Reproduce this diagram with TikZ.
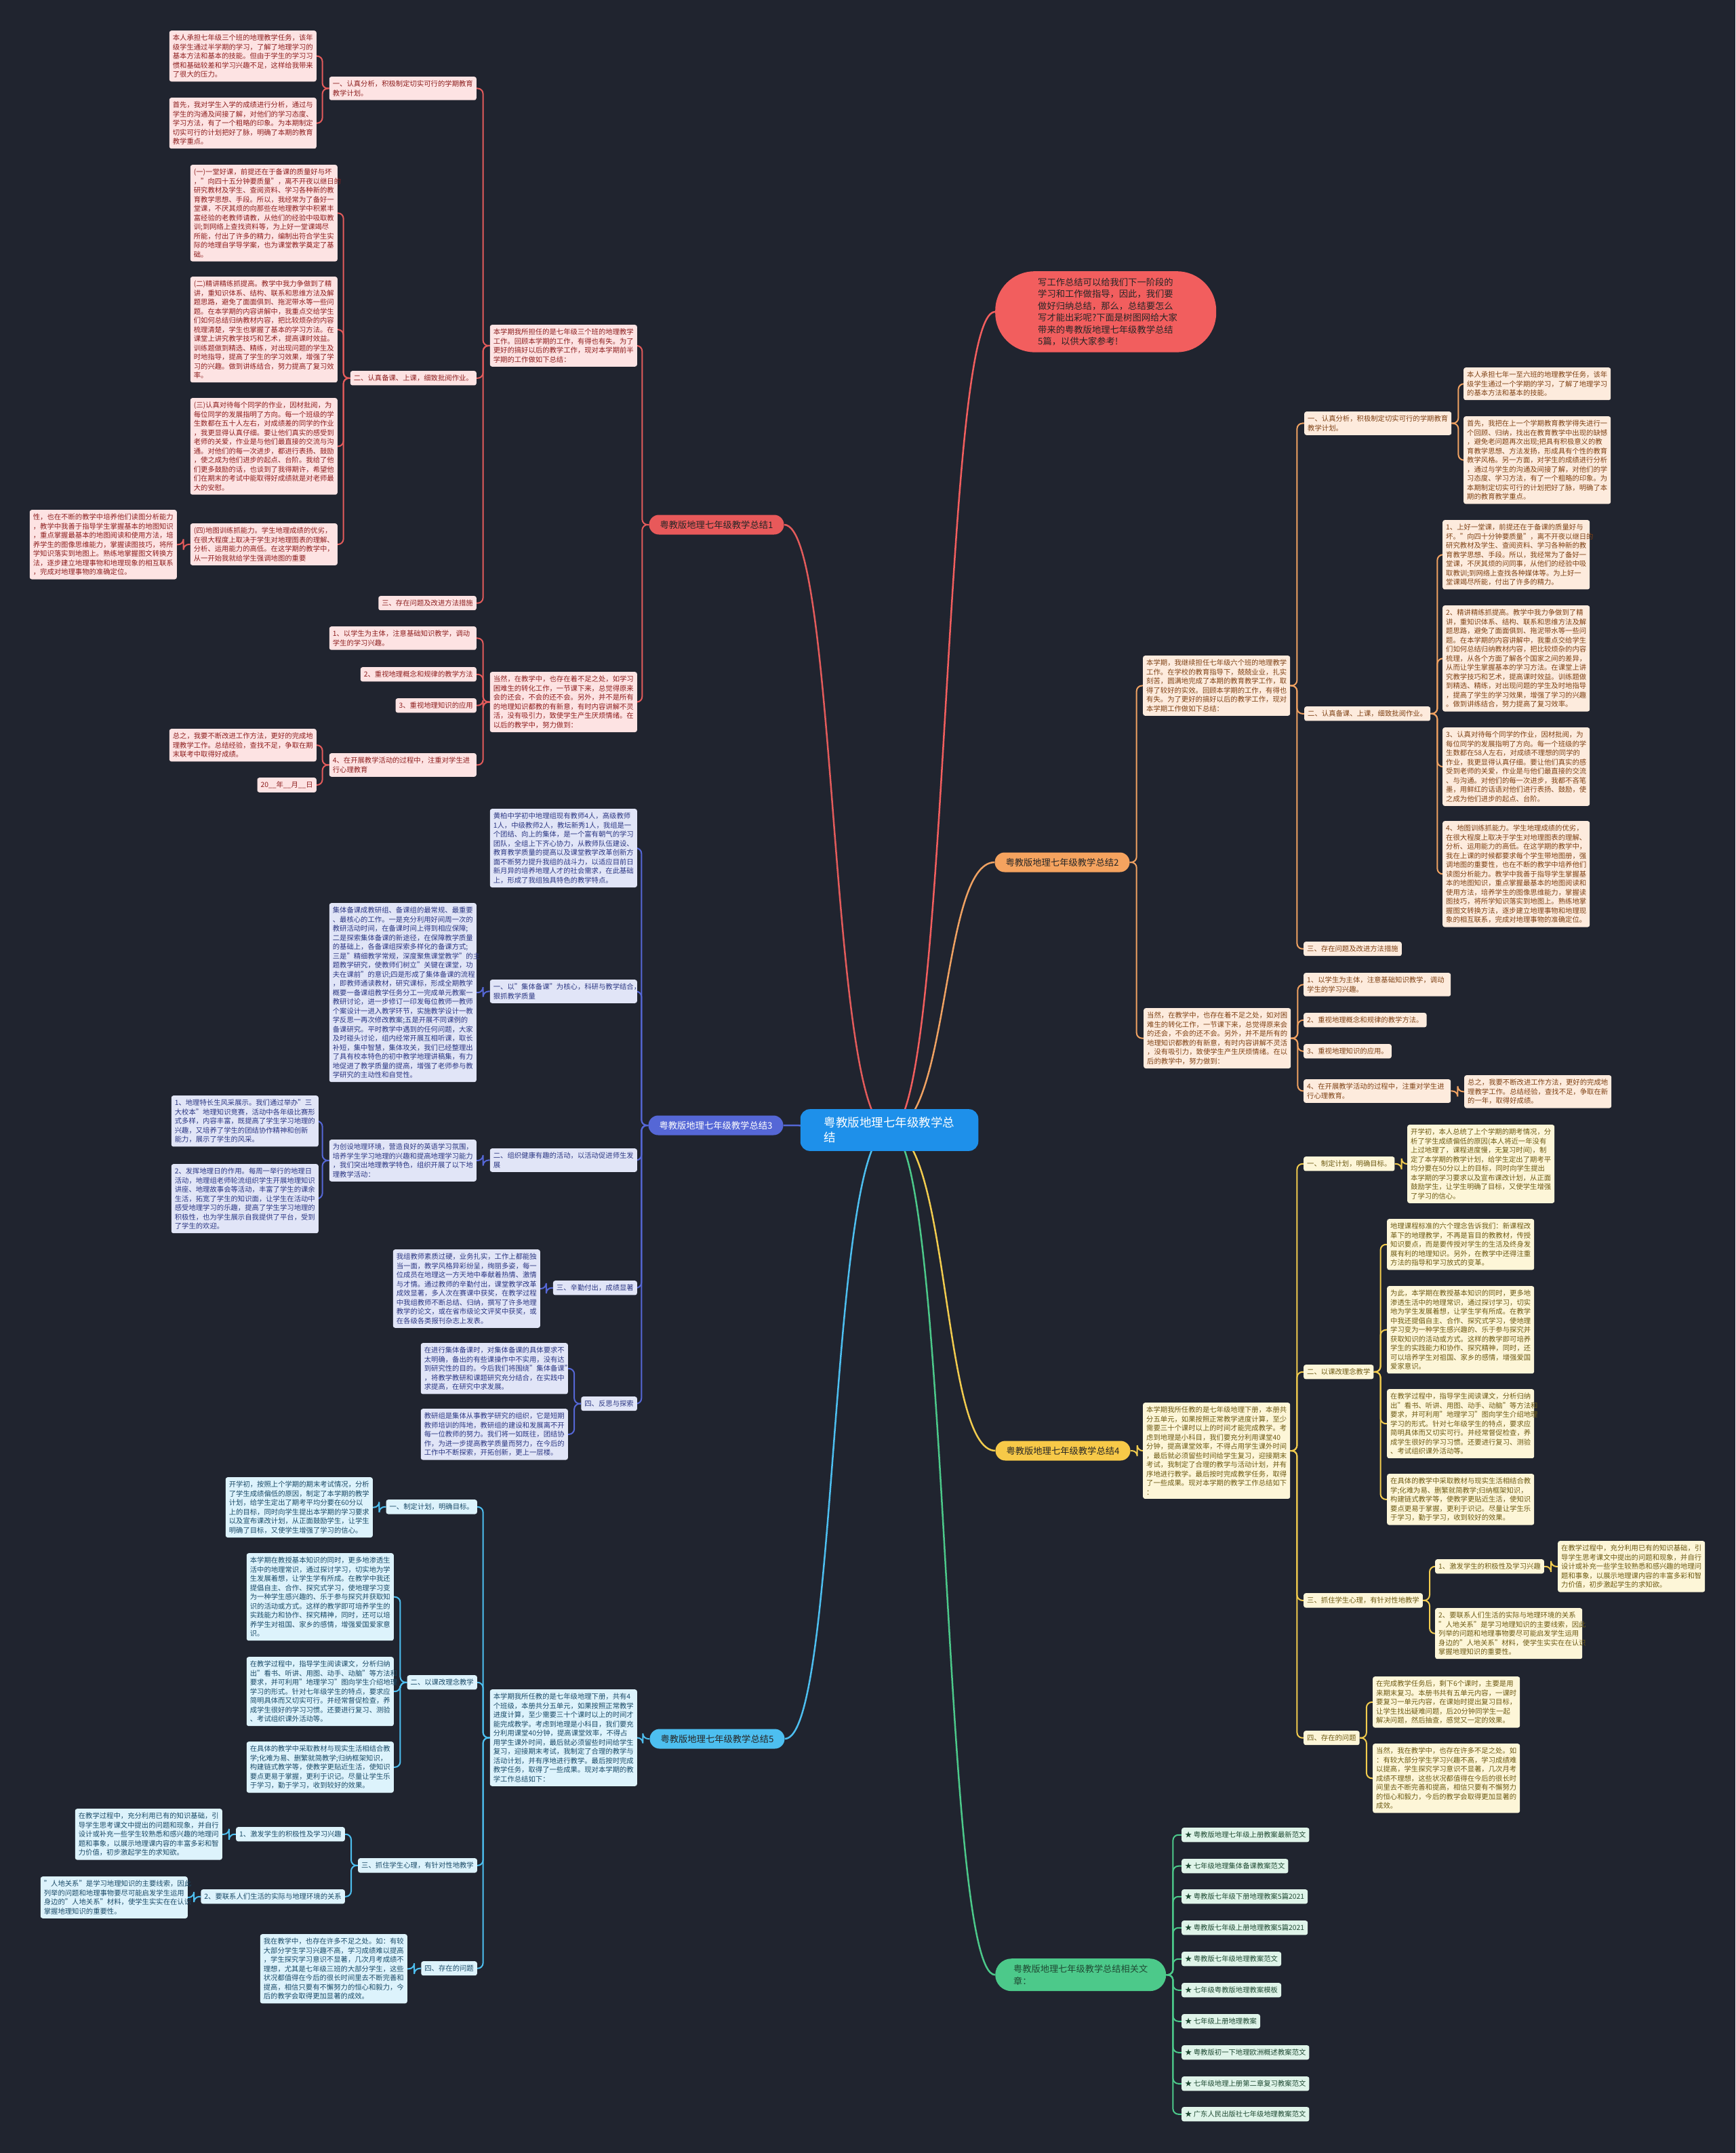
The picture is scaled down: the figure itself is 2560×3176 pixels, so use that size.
\documentclass[tikz,border=0pt]{standalone}
\usepackage{fontspec}
\setmainfont{Noto Sans CJK SC}
\usetikzlibrary{backgrounds}
\definecolor{bgc}{HTML}{20242F}
\definecolor{l1}{HTML}{E35B5B}\definecolor{f1}{HTML}{FDE3E3}\definecolor{t1}{HTML}{8E1F1F}\definecolor{n1}{HTML}{E8595A}
\definecolor{l2}{HTML}{F0A262}\definecolor{f2}{HTML}{FDEBDD}\definecolor{t2}{HTML}{7F4215}\definecolor{n2}{HTML}{F5A35F}
\definecolor{l3}{HTML}{5567D6}\definecolor{f3}{HTML}{E1E5F7}\definecolor{t3}{HTML}{2C3783}\definecolor{n3}{HTML}{5567D6}
\definecolor{l4}{HTML}{F2CC4E}\definecolor{f4}{HTML}{FDF6D8}\definecolor{t4}{HTML}{6E5B14}\definecolor{n4}{HTML}{F7C948}
\definecolor{l5}{HTML}{4DBFF0}\definecolor{f5}{HTML}{DDF3FC}\definecolor{t5}{HTML}{1B4B68}\definecolor{n5}{HTML}{4DBFF0}
\definecolor{l6}{HTML}{4CC98A}\definecolor{f6}{HTML}{DFF4E9}\definecolor{t6}{HTML}{1F4A33}\definecolor{n6}{HTML}{4CC98A}
\definecolor{rootc}{HTML}{1E90EA}
\definecolor{introc}{HTML}{F25E5E}
\newcommand\lnkL[3]{\draw[#1] (#2.west) -- ++(-10,0) |- (#3.east);}
\newcommand\lnkR[3]{\draw[#1] (#2.east) -- ++(10,0) |- (#3.west);}
\tikzset{
 bx/.style={rounded corners=3pt, inner xsep=5pt, inner ysep=5.7pt, align=left, font=\fontsize{10.35pt}{13.5pt}\selectfont},
 tw/.style={text width=207pt},
 k1/.style={bx, fill=f1, text=t1},
 k2/.style={bx, fill=f2, text=t2},
 k3/.style={bx, fill=f3, text=t3},
 k4/.style={bx, fill=f4, text=t4},
 k5/.style={bx, fill=f5, text=t5},
 k6/.style={bx, fill=f6, text=t6},
 brn/.style={rounded corners=14.5pt, minimum height=29pt, inner xsep=16pt, inner ysep=4pt, text=black!85, font=\fontsize{13.3pt}{16pt}\selectfont},
 ln1/.style={draw=l1, line width=2pt, rounded corners=8pt},
 ln2/.style={draw=l2, line width=2pt, rounded corners=8pt},
 ln3/.style={draw=l3, line width=2pt, rounded corners=8pt},
 ln4/.style={draw=l4, line width=2pt, rounded corners=8pt},
 ln5/.style={draw=l5, line width=2pt, rounded corners=8pt},
 ln6/.style={draw=l6, line width=2pt, rounded corners=8pt},
 rl/.style={line width=2.5pt},
 NE/.style={anchor=north east},
 NW/.style={anchor=north west},
}
\begin{document}
\begin{tikzpicture}[x=1pt,y=-1pt]
\begin{pgfonlayer}{background}
\fill[bgc] (0,0) rectangle (2560,3176);
\end{pgfonlayer}
\useasboundingbox (0,0) rectangle (2560,3176);

% root
\node[fill=rootc, text=white, rounded corners=14pt, text width=192.5pt, inner xsep=35pt, inner ysep=11.7pt, align=left, font=\fontsize{17.5pt}{22pt}\selectfont] (root) at (1312,1667) {粤教版地理七年级教学总\\结};

% intro bubble
\node[NW, fill=introc, text=black!85, rounded corners=58pt, text width=200pt, inner xsep=63pt, inner ysep=9.6pt, align=left, font=\fontsize{13.3pt}{17.5pt}\selectfont] (intro) at (1468,400) {写工作总结可以给我们下一阶段的\\学习和工作做指导，因此，我们要\\做好归纳总结，那么，总结要怎么\\写才能出彩呢?下面是树图网给大家\\带来的粤教版地理七年级教学总结\\5篇，以供大家参考!};

% ===== Branch 1 =====
\node[brn, fill=n1] (B1) at (1057,774) {粤教版地理七年级教学总结1};
\node[k1,tw,NE] (b1i1) at (940,479) {本学期我所担任的是七年级三个班的地理教学\\工作。回顾本学期的工作，有得也有失。为了\\更好的搞好以后的教学工作，现对本学期前半\\学期的工作做如下总结：};
\node[k1,tw,NE] (b1i2) at (940,991) {当然，在教学中，也存在着不足之处，如学习\\困难生的转化工作，一节课下来，总觉得原来\\会的还会，不会的还不会。另外，并不是所有\\的地理知识都教的有新意，有时内容讲解不灵\\活，没有吸引力，致使学生产生厌烦情绪。在\\以后的教学中，努力做到：};
\node[k1,tw,NE] (b1a) at (703,113) {一、认真分析，积极制定切实可行的学期教育\\教学计划。};
\node[k1,tw,NE] (b1a1) at (467,45) {本人承担七年级三个班的地理教学任务，该年\\级学生通过半学期的学习，了解了地理学习的\\基本方法和基本的技能。但由于学生的学习习\\惯和基础较差和学习兴趣不足，这样给我带来\\了很大的压力。};
\node[k1,tw,NE] (b1a2) at (467,144) {首先，我对学生入学的成绩进行分析，通过与\\学生的沟通及间接了解，对他们的学习态度、\\学习方法，有了一个粗略的印象。为本期制定\\切实可行的计划把好了脉，明确了本期的教育\\教学重点。};
\node[k1,NE] (b1b) at (703,547) {二、认真备课、上课，细致批阅作业。};
\node[k1,tw,NE] (b1b1) at (498,243) {(一)一堂好课，前提还在于备课的质量好与坏\\，"向四十五分钟要质量"，离不开夜以继日的\\研究教材及学生、查阅资料、学习各种新的教\\育教学思想、手段。所以，我经常为了备好一\\堂课，不厌其烦的向那些在地理教学中积累丰\\富经验的老教师请教，从他们的经验中吸取教\\训;到网络上查找资料等，为上好一堂课竭尽\\所能，付出了许多的精力，编制出符合学生实\\际的地理自学导学案，也为课堂教学奠定了基\\础。};
\node[k1,tw,NE] (b1b2) at (498,408) {(二)精讲精练抓提高。教学中我力争做到了精\\讲，重知识体系、结构、联系和思维方法及解\\题思路，避免了面面俱到、拖泥带水等一些问\\题。在本学期的内容讲解中，我重点交给学生\\们如何总结归纳教材内容，把比较烦杂的内容\\梳理清楚，学生也掌握了基本的学习方法。在\\课堂上讲究教学技巧和艺术，提高课时效益。\\训练题做到精选、精练，对出现问题的学生及\\时地指导，提高了学生的学习效果，增强了学\\习的兴趣。做到讲练结合，努力提高了复习效\\率。};
\node[k1,tw,NE] (b1b3) at (498,587) {(三)认真对待每个同学的作业，因材批阅，为\\每位同学的发展指明了方向。每一个班级的学\\生数都在五十人左右，对成绩差的同学的作业\\，我更显得认真仔细。要让他们真实的感受到\\老师的关爱，作业是与他们最直接的交流与沟\\通。对他们的每一次进步，都进行表扬、鼓励\\，使之成为他们进步的起点、台阶。我给了他\\们更多鼓励的话，也谈到了我得期许，希望他\\们在期末的考试中能取得好成绩就是对老师最\\大的安慰。};
\node[k1,tw,NE] (b1b4) at (498,772) {(四)地图训练抓能力。学生地理成绩的优劣，\\在很大程度上取决于学生对地理图表的理解、\\分析、运用能力的高低。在这学期的教学中，\\从一开始我就给学生强调地图的重要};
\node[k1,tw,NE] (b1b4a) at (261,752) {性，也在不断的教学中培养他们读图分析能力\\，教学中我善于指导学生掌握基本的地图知识\\，重点掌握最基本的地图阅读和使用方法，培\\养学生的图像思维能力，掌握读图技巧，将所\\学知识落实到地图上。熟练地掌握图文转换方\\法，逐步建立地理事物和地理现象的相互联系\\，完成对地理事物的准确定位。};
\node[k1,NE] (b1c) at (703,879) {三、存在问题及改进方法措施};
\node[k1,tw,NE] (b1d1) at (703,924) {1、以学生为主体，注意基础知识教学，调动\\学生的学习兴趣。};
\node[k1,NE] (b1d2) at (703,984) {2、重视地理概念和规律的教学方法};
\node[k1,NE] (b1d3) at (703,1030) {3、重视地理知识的应用};
\node[k1,tw,NE] (b1d4) at (703,1111) {4、在开展教学活动的过程中，注重对学生进\\行心理教育};
\node[k1,tw,NE] (b1d4a) at (467,1075) {总之，我要不断改进工作方法，更好的完成地\\理教学工作。总结经验，查找不足，争取在期\\末联考中取得好成绩。};
\node[k1,NE] (b1d4b) at (467,1147) {20\_\_年\_\_月\_\_日};

% ===== Branch 2 =====
\node[brn, fill=n2] (B2) at (1567,1272) {粤教版地理七年级教学总结2};
\node[k2,tw,NW] (b2i1) at (1686,967) {本学期，我继续担任七年级六个班的地理教学\\工作。在学校的教育指导下，兢兢业业，扎实\\刻苦，圆满地完成了本期的教育教学工作，取\\得了较好的实效。回顾本学期的工作，有得也\\有失。为了更好的搞好以后的教学工作，现对\\本学期工作做如下总结：};
\node[k2,tw,NW] (b2i2) at (1687,1487) {当然，在教学中，也存在着不足之处，如对困\\难生的转化工作，一节课下来，总觉得原来会\\的还会，不会的还不会。另外，并不是所有的\\地理知识都教的有新意，有时内容讲解不灵活\\，没有吸引力，致使学生产生厌烦情绪。在以\\后的教学中，努力做到：};
\node[k2,tw,NW] (b2a) at (1924,607) {一、认真分析，积极制定切实可行的学期教育\\教学计划。};
\node[k2,tw,NW] (b2a1) at (2159,542) {本人承担七年一至六班的地理教学任务，该年\\级学生通过一个学期的学习，了解了地理学习\\的基本方法和基本的技能。};
\node[k2,tw,NW] (b2a2) at (2159,614) {首先，我把在上一个学期教育教学得失进行一\\个回顾、归纳，找出在教育教学中出现的缺憾\\，避免老问题再次出现;把具有积极意义的教\\育教学思想、方法发扬，形成具有个性的教育\\教学风格。另一方面，对学生的成绩进行分析\\，通过与学生的沟通及间接了解，对他们的学\\习态度、学习方法，有了一个粗略的印象。为\\本期制定切实可行的计划把好了脉，明确了本\\期的教育教学重点。};
\node[k2,NW] (b2b) at (1924,1042) {二、认真备课、上课，细致批阅作业。};
\node[k2,tw,NW] (b2b1) at (2128,767) {1、上好一堂课，前提还在于备课的质量好与\\坏。"向四十分钟要质量"，离不开夜以继日的\\研究教材及学生、查阅资料、学习各种新的教\\育教学思想、手段。所以，我经常为了备好一\\堂课，不厌其烦的问同事，从他们的经验中吸\\取教训;到网络上查找各种媒体等。为上好一\\堂课竭尽所能，付出了许多的精力。};
\node[k2,tw,NW] (b2b2) at (2128,893) {2、精讲精练抓提高。教学中我力争做到了精\\讲，重知识体系、结构、联系和思维方法及解\\题思路，避免了面面俱到、拖泥带水等一些问\\题。在本学期的内容讲解中，我重点交给学生\\们如何总结归纳教材内容，把比较烦杂的内容\\梳理，从各个方面了解各个国家之间的差异，\\从而让学生掌握基本的学习方法。在课堂上讲\\究教学技巧和艺术，提高课时效益。训练题做\\到精选、精练，对出现问题的学生及时地指导\\，提高了学生的学习效果，增强了学习的兴趣\\。做到讲练结合，努力提高了复习效率。};
\node[k2,tw,NW] (b2b3) at (2128,1073) {3、认真对待每个同学的作业，因材批阅，为\\每位同学的发展指明了方向。每一个班级的学\\生数都在58人左右，对成绩不理想的同学的\\作业，我更显得认真仔细。要让他们真实的感\\受到老师的关爱，作业是与他们最直接的交流\\、与沟通。对他们的每一次进步，我都不吝笔\\墨，用鲜红的话语对他们进行表扬、鼓励，使\\之成为他们进步的起点、台阶。};
\node[k2,tw,NW] (b2b4) at (2128,1211) {4、地图训练抓能力。学生地理成绩的优劣，\\在很大程度上取决于学生对地理图表的理解、\\分析、运用能力的高低。在这学期的教学中，\\我在上课的时候都要求每个学生带地图册，强\\调地图的重要性，也在不断的教学中培养他们\\读图分析能力。教学中我善于指导学生掌握基\\本的地图知识，重点掌握最基本的地图阅读和\\使用方法，培养学生的图像思维能力，掌握读\\图技巧，将所学知识落实到地图上。熟练地掌\\握图文转换方法，逐步建立地理事物和地理现\\象的相互联系，完成对地理事物的准确定位。};
\node[k2,NW] (b2c) at (1923,1389) {三、存在问题及改进方法措施};
\node[k2,tw,NW] (b2d1) at (1923,1435) {1、以学生为主体，注意基础知识教学，调动\\学生的学习兴趣。};
\node[k2,NW] (b2d2) at (1923,1494) {2、重视地理概念和规律的教学方法。};
\node[k2,NW] (b2d3) at (1923,1540) {3、重视地理知识的应用。};
\node[k2,tw,NW] (b2d4) at (1923,1592) {4、在开展教学活动的过程中，注重对学生进\\行心理教育。};
\node[k2,tw,NW] (b2d4a) at (2160,1586) {总之，我要不断改进工作方法，更好的完成地\\理教学工作。总结经验，查找不足，争取在新\\的一年，取得好成绩。};

% ===== Branch 3 =====
\node[brn, fill=n3, text=white] (B3) at (1056,1660) {粤教版地理七年级教学总结3};
\node[k3,tw,NE] (b3i) at (940,1193) {黄柏中学初中地理组现有教师4人，高级教师\\1人，中级教师2人，教坛新秀1人，我组是一\\个团结、向上的集体，是一个富有朝气的学习\\团队，全组上下齐心协力，从教师队伍建设、\\教育教学质量的提高以及课堂教学改革创新方\\面不断努力提升我组的战斗力，以适应目前日\\新月异的培养地理人才的社会需求，在此基础\\上，形成了我组独具特色的教学特点。};
\node[k3,tw,NE] (b3a) at (940,1445) {一、以"集体备课"为核心，科研与教学结合，\\狠抓教学质量};
\node[k3,tw,NE] (b3a1) at (703,1332) {集体备课成教研组、备课组的最常规、最重要\\、最核心的工作。一是充分利用好间周一次的\\教研活动时间，在备课时间上得到相应保障;\\二是探索集体备课的新途径，在保障教学质量\\的基础上，各备课组探索多样化的备课方式;\\三是"精细教学常规，深度聚焦课堂教学"的主\\题教学研究，使教师们树立"关键在课堂，功\\夫在课前"的意识;四是形成了集体备课的流程\\，即教师通读教材，研究课标，形成全期教学\\概要一备课组教学任务分工一完成单元教案一\\教研讨论，进一步修订一印发每位教师一教师\\个案设计一进入教学环节，实施教学设计一教\\学反思一再次修改教案;五是开展不同课例的\\备课研究。平时教学中遇到的任何问题，大家\\及时碰头讨论，组内经常开展互相听课，取长\\补短，集中智慧，集体攻关，我们已经整理出\\了具有校本特色的初中教学地理讲稿集，有力\\地促进了教学质量的提高，增强了老师参与教\\学研究的主动性和自觉性。};
\node[k3,tw,NE] (b3b) at (940,1694) {二、组织健康有趣的活动，以活动促进师生发\\展};
\node[k3,tw,NE] (b3b1) at (703,1681) {为创设地理环境，营造良好的英语学习氛围，\\培养学生学习地理的兴趣和提高地理学习能力\\，我们突出地理教学特色，组织开展了以下地\\理教学活动：};
\node[k3,tw,NE] (b3b1a) at (470,1616) {1、地理特长生风采展示。我们通过举办"三\\大校本"地理知识竞赛，活动中各年级比赛形\\式多样，内容丰富，既提高了学生学习地理的\\兴趣，又培养了学生的团结协作精神和创新\\能力，展示了学生的风采。};
\node[k3,tw,NE] (b3b1b) at (470,1717) {2、发挥地理日的作用。每周一举行的地理日\\活动，地理组老师轮流组织学生开展地理知识\\讲座、地理故事会等活动，丰富了学生的课余\\生活，拓宽了学生的知识面，让学生在活动中\\感受地理学习的乐趣，提高了学生学习地理的\\积极性，也为学生展示自我提供了平台，受到\\了学生的欢迎。};
\node[k3,NE] (b3c) at (940,1889) {三、辛勤付出，成绩显著};
\node[k3,tw,NE] (b3c1) at (797,1843) {我组教师素质过硬，业务扎实，工作上都能独\\当一面，教学风格异彩纷呈，绚丽多姿，每一\\位成员在地理这一方天地中奉献着热情、激情\\与才情。通过教师的辛勤付出，课堂教学改革\\成效显著，多人次在赛课中获奖，在教学过程\\中我组教师不断总结、归纳，撰写了许多地理\\教学的论文，或在省市级论文评奖中获奖，或\\在各级各类报刊杂志上发表。};
\node[k3,NE] (b3d) at (940,2060) {四、反思与探索};
\node[k3,tw,NE] (b3d1) at (838,1981) {在进行集体备课时，对集体备课的具体要求不\\太明确，备出的有些课操作中不实用，没有达\\到研究性的目的。今后我们将围绕"集体备课"\\，将教学教研和课题研究充分结合，在实践中\\求提高，在研究中求发展。};
\node[k3,tw,NE] (b3d2) at (838,2078) {教研组是集体从事教学研究的组织，它是短期\\教师培训的阵地，教研组的建设和发展离不开\\每一位教师的努力。我们将一如既往，团结协\\作，为进一步提高教学质量而努力，在今后的\\工作中不断探索，开拓创新，更上一层楼。};

% ===== Branch 4 =====
\node[brn, fill=n4] (B4) at (1568,2140) {粤教版地理七年级教学总结4};
\node[k4,tw,NW] (b4i) at (1686,2069) {本学期我所任教的是七年级地理下册，本册共\\分五单元，如果按照正常教学进度计算，至少\\需要三十个课时以上的时间才能完成教学。考\\虑到地理是小科目，我们要充分利用课堂40\\分钟，提高课堂效率，不得占用学生课外时间\\，最后就必须留些时间给学生复习，迎接期末\\考试，我制定了合理的教学与活动计划，并有\\序地进行教学。最后按时完成教学任务，取得\\了一些成果。现对本学期的教学工作总结如下\\：};
\node[k4,NW] (b4a) at (1923,1706) {一、制定计划，明确目标。};
\node[k4,tw,NW] (b4a1) at (2076,1659) {开学初，本人总统了上个学期的期考情况，分\\析了学生成绩偏低的原因(本人将近一年没有\\上过地理了，课程进度慢，无复习时间)，制\\定了本学期的教学计划，给学生定出了期考平\\均分要在50分以上的目标，同时向学生提出\\本学期的学习要求以及宣布课改计划，从正面\\鼓励学生，让学生明确了目标，又使学生增强\\了学习的信心。};
\node[k4,NW] (b4b) at (1923,2013) {二、以课改理念教学};
\node[k4,tw,NW] (b4b1) at (2046,1798) {地理课程标准的六个理念告诉我们：新课程改\\革下的地理教学，不再是盲目的教教材，传授\\知识要点，而是要传授对学生的生活及终身发\\展有利的地理知识。另外，在教学中还得注重\\方法的指导和学习放式的变革。};
\node[k4,tw,NW] (b4b2) at (2046,1897) {为此，本学期在教授基本知识的同时，更多地\\渗透生活中的地理常识，通过探讨学习，切实\\地为学生发展着想，让学生学有所成。在教学\\中我还提倡自主、合作、探究式学习，使地理\\学习变为一种学生感兴趣的、乐于参与探究并\\获取知识的活动或方式。这样的教学即可培养\\学生的实践能力和协作、探究精神，同时，还\\可以培养学生对祖国、家乡的感情，增强爱国\\爱家意识。};
\node[k4,tw,NW] (b4b3) at (2046,2049) {在教学过程中，指导学生阅读课文，分析归纳\\出"看书、听讲、用图、动手、动脑"等方法和\\要求，并可利用"地理学习"图向学生介绍地理\\学习的形式。针对七年级学生的特点，要求应\\简明具体而又切实可行。并经常督促检查，养\\成学生很好的学习习惯。还要进行复习、测验\\、考试组织课外活动等。};
\node[k4,tw,NW] (b4b4) at (2046,2174) {在具体的教学中采取教材与现实生活相结合教\\学;化难为易、删繁就简教学;归纳框架知识，\\构建链式教学等，使教学更贴近生活，使知识\\要点更易于掌握，更利于识记。尽量让学生乐\\于学习，勤于学习，收到较好的效果。};
\node[k4,NW] (b4c) at (1923,2350) {三、抓住学生心理，有针对性地教学};
\node[k4,NW] (b4c1) at (2117,2300) {1、激发学生的积极性及学习兴趣};
\node[k4,tw,NW] (b4c1a) at (2298,2273) {在教学过程中，充分利用已有的知识基础，引\\导学生思考课文中提出的问题和现象，并自行\\设计或补充一些学生较熟悉和感兴趣的地理问\\题和事象，以展示地理课内容的丰富多彩和智\\力价值，初步激起学生的求知欲。};
\node[k4,tw,NW] (b4c2) at (2117,2372) {2、要联系人们生活的实际与地理环境的关系\\"人地关系"是学习地理知识的主要线索，因此\\列举的问题和地理事物要尽可能启发学生运用\\身边的"人地关系"材料，使学生实实在在认识\\掌握地理知识的重要性。};
\node[k4,NW] (b4d) at (1923,2553) {四、存在的问题};
\node[k4,tw,NW] (b4d1) at (2025,2473) {在完成教学任务后，剩下6个课时，主要是用\\来期末复习。本册书共有五单元内容，一课时\\要复习一单元内容，在课始时提出复习目标，\\让学生找出疑难问题，后20分钟同学生一起\\解决问题，然后抽查，感觉又一定的效果。};
\node[k4,tw,NW] (b4d2) at (2025,2572) {当然，我在教学中，也存在许多不足之处。如\\：有较大部分学生学习兴趣不高，学习成绩难\\以提高，学生探究学习意识不显著，几次月考\\成绩不理想，这些状况都值得在今后的很长时\\间里去不断完善和提高，相信只要有不懈努力\\的恒心和毅力，今后的教学会取得更加显著的\\成效。};

% ===== Branch 5 =====
\node[brn, fill=n5] (B5) at (1058,2565) {粤教版地理七年级教学总结5};
\node[k5,tw,NE] (b5i) at (940,2492) {本学期我所任教的是七年级地理下册，共有4\\个班级，本册共分五单元，如果按照正常教学\\进度计算，至少需要三十个课时以上的时间才\\能完成教学。考虑到地理是小科目，我们要充\\分利用课堂40分钟，提高课堂效率，不得占\\用学生课外时间，最后就必须留些时间给学生\\复习，迎接期末考试，我制定了合理的教学与\\活动计划，并有序地进行教学。最后按时完成\\教学任务，取得了一些成果。现对本学期的教\\学工作总结如下：};
\node[k5,NE] (b5a) at (704,2212) {一、制定计划，明确目标。};
\node[k5,tw,NE] (b5a1) at (550,2179) {开学初，按照上个学期的期末考试情况，分析\\了学生成绩偏低的原因，制定了本学期的教学\\计划，给学生定出了期考平均分要在60分以\\上的目标，同时向学生提出本学期的学习要求\\以及宣布课改计划，从正面鼓励学生，让学生\\明确了目标，又使学生增强了学习的信心。};
\node[k5,NE] (b5b) at (704,2471) {二、以课改理念教学};
\node[k5,tw,NE] (b5b1) at (581,2291) {本学期在教授基本知识的同时，更多地渗透生\\活中的地理常识，通过探讨学习，切实地为学\\生发展着想，让学生学有所成。在教学中我还\\提倡自主、合作、探究式学习，使地理学习变\\为一种学生感兴趣的、乐于参与探究并获取知\\识的活动或方式。这样的教学即可培养学生的\\实践能力和协作、探究精神，同时，还可以培\\养学生对祖国、家乡的感情，增强爱国爱家意\\识。};
\node[k5,tw,NE] (b5b2) at (581,2444) {在教学过程中，指导学生阅读课文，分析归纳\\出"看书、听讲、用图、动手、动脑"等方法和\\要求，并可利用"地理学习"图向学生介绍地理\\学习的形式。针对七年级学生的特点，要求应\\简明具体而又切实可行。并经常督促检查，养\\成学生很好的学习习惯。还要进行复习、测验\\、考试组织课外活动等。};
\node[k5,tw,NE] (b5b3) at (581,2569) {在具体的教学中采取教材与现实生活相结合教\\学;化难为易、删繁就简教学;归纳框架知识，\\构建链式教学等，使教学更贴近生活，使知识\\要点更易于掌握，更利于识记。尽量让学生乐\\于学习，勤于学习，收到较好的效果。};
\node[k5,NE] (b5c) at (704,2741) {三、抓住学生心理，有针对性地教学};
\node[k5,NE] (b5c1) at (509,2695) {1、激发学生的积极性及学习兴趣};
\node[k5,tw,NE] (b5c1a) at (328,2668) {在教学过程中，充分利用已有的知识基础，引\\导学生思考课文中提出的问题和现象，并自行\\设计或补充一些学生较熟悉和感兴趣的地理问\\题和事象，以展示地理课内容的丰富多彩和智\\力价值，初步激起学生的求知欲。};
\node[k5,NE] (b5c2) at (509,2787) {2、要联系人们生活的实际与地理环境的关系};
\node[k5,tw,NE] (b5c2a) at (277,2768) {"人地关系"是学习地理知识的主要线索，因此\\列举的问题和地理事物要尽可能启发学生运用\\身边的"人地关系"材料，使学生实实在在认识\\掌握地理知识的重要性。};
\node[k5,NE] (b5d) at (704,2893) {四、存在的问题};
\node[k5,tw,NE] (b5d1) at (601,2853) {我在教学中，也存在许多不足之处。如：有较\\大部分学生学习兴趣不高，学习成绩难以提高\\，学生探究学习意识不显著，几次月考成绩不\\理想，尤其是七年级三班的大部分学生，这些\\状况都值得在今后的很长时间里去不断完善和\\提高，相信只要有不懈努力的恒心和毅力，今\\后的教学会取得更加显著的成效。};

% ===== Related =====
\node[NW, fill=n6, text=t6, rounded corners=24pt, text width=198pt, inner xsep=27pt, inner ysep=9pt, align=left, font=\fontsize{13.2pt}{17.7pt}\selectfont] (RG) at (1468,2889) {粤教版地理七年级教学总结相关文\\章：};
\node[k6,NW] (r1) at (1743,2696) {★ 粤教版地理七年级上册教案最新范文};
\node[k6,NW] (r2) at (1743,2742) {★ 七年级地理集体备课教案范文};
\node[k6,NW] (r3) at (1743,2787) {★ 粤教版七年级下册地理教案5篇2021};
\node[k6,NW] (r4) at (1743,2833) {★ 粤教版七年级上册地理教案5篇2021};
\node[k6,NW] (r5) at (1743,2879) {★ 粤教版七年级地理教案范文};
\node[k6,NW] (r6) at (1743,2925) {★ 七年级粤教版地理教案模板};
\node[k6,NW] (r7) at (1743,2971) {★ 七年级上册地理教案};
\node[k6,NW] (r8) at (1743,3017) {★ 粤教版初一下地理欧洲概述教案范文};
\node[k6,NW] (r9) at (1743,3063) {★ 七年级地理上册第二章复习教案范文};
\node[k6,NW] (r10) at (1743,3108) {★ 广东人民出版社七年级地理教案范文};

% ===== connectors =====
\begin{pgfonlayer}{background}
\draw[draw=l1,rl] (B1.east) .. controls +(80,0) and +(-90,0) .. (root.center);
\draw[draw=l3,rl] (B3.east) .. controls +(80,0) and +(-90,0) .. (root.center);
\draw[draw=l5,rl] (B5.east) .. controls +(80,0) and +(-90,0) .. (root.center);
\draw[draw=introc,rl] (root.center) .. controls +(90,0) and +(-80,0) .. (intro.west);
\draw[draw=l2,rl] (root.center) .. controls +(90,0) and +(-80,0) .. (B2.west);
\draw[draw=l4,rl] (root.center) .. controls +(90,0) and +(-80,0) .. (B4.west);
\draw[draw=l6,rl] (root.center) .. controls +(90,0) and +(-80,0) .. (RG.west);
% branch 1
\lnkL{ln1}{B1}{b1i1}\lnkL{ln1}{B1}{b1i2}
\lnkL{ln1}{b1i1}{b1a}\lnkL{ln1}{b1i1}{b1b}\lnkL{ln1}{b1i1}{b1c}
\lnkL{ln1}{b1a}{b1a1}\lnkL{ln1}{b1a}{b1a2}
\lnkL{ln1}{b1b}{b1b1}\lnkL{ln1}{b1b}{b1b2}\lnkL{ln1}{b1b}{b1b3}\lnkL{ln1}{b1b}{b1b4}
\lnkL{ln1}{b1b4}{b1b4a}
\lnkL{ln1}{b1i2}{b1d1}\lnkL{ln1}{b1i2}{b1d2}\lnkL{ln1}{b1i2}{b1d3}\lnkL{ln1}{b1i2}{b1d4}
\lnkL{ln1}{b1d4}{b1d4a}\lnkL{ln1}{b1d4}{b1d4b}
% branch 2
\lnkR{ln2}{B2}{b2i1}\lnkR{ln2}{B2}{b2i2}
\lnkR{ln2}{b2i1}{b2a}\lnkR{ln2}{b2i1}{b2b}\lnkR{ln2}{b2i1}{b2c}
\lnkR{ln2}{b2a}{b2a1}\lnkR{ln2}{b2a}{b2a2}
\lnkR{ln2}{b2b}{b2b1}\lnkR{ln2}{b2b}{b2b2}\lnkR{ln2}{b2b}{b2b3}\lnkR{ln2}{b2b}{b2b4}
\lnkR{ln2}{b2i2}{b2d1}\lnkR{ln2}{b2i2}{b2d2}\lnkR{ln2}{b2i2}{b2d3}\lnkR{ln2}{b2i2}{b2d4}
\lnkR{ln2}{b2d4}{b2d4a}
% branch 3
\lnkL{ln3}{B3}{b3i}\lnkL{ln3}{B3}{b3a}\lnkL{ln3}{B3}{b3b}\lnkL{ln3}{B3}{b3c}\lnkL{ln3}{B3}{b3d}
\lnkL{ln3}{b3a}{b3a1}
\lnkL{ln3}{b3b}{b3b1}
\lnkL{ln3}{b3b1}{b3b1a}\lnkL{ln3}{b3b1}{b3b1b}
\lnkL{ln3}{b3c}{b3c1}
\lnkL{ln3}{b3d}{b3d1}\lnkL{ln3}{b3d}{b3d2}
% branch 4
\lnkR{ln4}{B4}{b4i}
\lnkR{ln4}{b4i}{b4a}\lnkR{ln4}{b4i}{b4b}\lnkR{ln4}{b4i}{b4c}\lnkR{ln4}{b4i}{b4d}
\lnkR{ln4}{b4a}{b4a1}
\lnkR{ln4}{b4b}{b4b1}\lnkR{ln4}{b4b}{b4b2}\lnkR{ln4}{b4b}{b4b3}\lnkR{ln4}{b4b}{b4b4}
\lnkR{ln4}{b4c}{b4c1}\lnkR{ln4}{b4c}{b4c2}
\lnkR{ln4}{b4c1}{b4c1a}
\lnkR{ln4}{b4d}{b4d1}\lnkR{ln4}{b4d}{b4d2}
% branch 5
\lnkL{ln5}{B5}{b5i}
\lnkL{ln5}{b5i}{b5a}\lnkL{ln5}{b5i}{b5b}\lnkL{ln5}{b5i}{b5c}\lnkL{ln5}{b5i}{b5d}
\lnkL{ln5}{b5a}{b5a1}
\lnkL{ln5}{b5b}{b5b1}\lnkL{ln5}{b5b}{b5b2}\lnkL{ln5}{b5b}{b5b3}
\lnkL{ln5}{b5c}{b5c1}\lnkL{ln5}{b5c}{b5c2}
\lnkL{ln5}{b5c1}{b5c1a}\lnkL{ln5}{b5c2}{b5c2a}
\lnkL{ln5}{b5d}{b5d1}
% related
\lnkR{ln6}{RG}{r1}\lnkR{ln6}{RG}{r2}\lnkR{ln6}{RG}{r3}\lnkR{ln6}{RG}{r4}\lnkR{ln6}{RG}{r5}
\lnkR{ln6}{RG}{r6}\lnkR{ln6}{RG}{r7}\lnkR{ln6}{RG}{r8}\lnkR{ln6}{RG}{r9}\lnkR{ln6}{RG}{r10}
\end{pgfonlayer}
\end{tikzpicture}
\end{document}
